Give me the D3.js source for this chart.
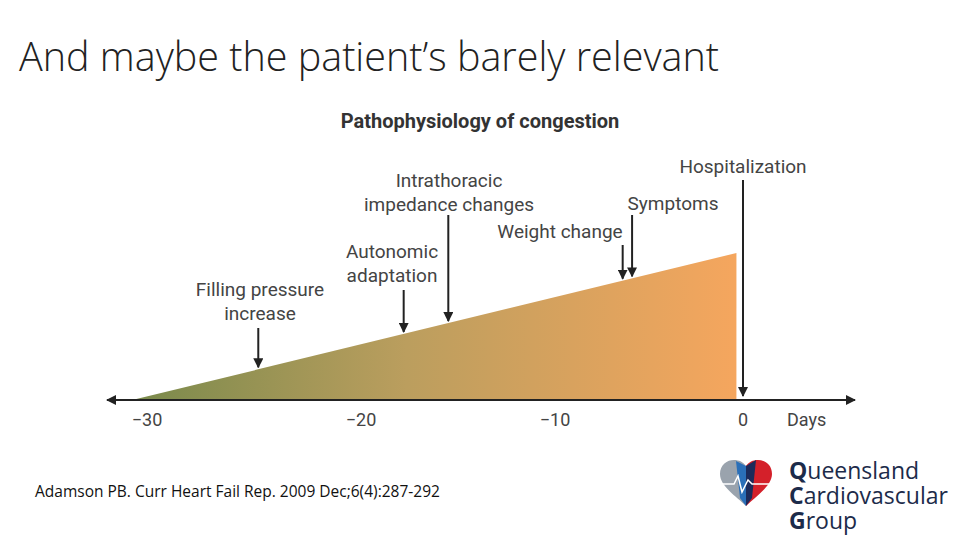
<!DOCTYPE html>
<html>
<head>
<meta charset="utf-8">
<script src="https://cdn.jsdelivr.net/npm/d3@7"></script>
<style>
  body { margin: 0; background: #fff; }
  svg text { font-family: "Open Sans", sans-serif; }
</style>
</head>
<body>
<svg id="chart" width="960" height="540"></svg>
<script>
// Data
const TICKS = [-30, -20, -10, 0];
const TICK_LABELS = ["\u221230", "\u221220", "\u221210", "0"];
const RAMP_DAYS = [-30.5, -0.35];      // congestion ramp start/end
const RAMP_LEVEL = [0, 1];             // relative height
const EVENTS = ["Filling pressure|increase", "Autonomic|adaptation", "Intrathoracic|impedance changes", "Weight change", "Symptoms", "Hospitalization"];
const EVENT_DAYS = [-24.8, -17.8, -15.5, -6.4, -5.9, 0];
const EVENT_TOPS = [328, 290, 215, 245, 215, 180];   // arrow start (y px)

const svg = d3.select("#chart");

// Slide title
svg.append("text").attr("x", 19).attr("y", 71)
  .style("font-size", "39.5px").style("font-weight", 300).attr("fill", "#222")
  .text("And maybe the patient\u2019s barely relevant");

// Scales (the source figure's axis is slightly uneven)
const x = d3.scaleLinear().domain(TICKS).range([147, 361, 555, 743]);
const y = d3.scaleLinear().domain([0, 1]).range([399, 253]);
const rampAt = d => y((x(d) - x(RAMP_DAYS[0])) / (x(RAMP_DAYS[1]) - x(RAMP_DAYS[0])));

const FONT_N = "'Liberation Sans Narrow', 'Roboto', sans-serif";

// Chart title
svg.append("text").attr("x", 480).attr("y", 128).attr("text-anchor", "middle")
  .style("font-size", "20px").style("font-weight", "bold").attr("fill", "#333")
  .style("font-family", FONT_N)
  .text("Pathophysiology of congestion");

// Gradient
const defs = svg.append("defs");
const grad = defs.append("linearGradient").attr("id", "ramp");
grad.append("stop").attr("offset", "0%").attr("stop-color", "#7a8a4c");
grad.append("stop").attr("offset", "45%").attr("stop-color", "#bb9e5e");
grad.append("stop").attr("offset", "100%").attr("stop-color", "#f5a65e");

const marker = defs.append("marker").attr("id", "ah").attr("viewBox", "0 0 10 10")
  .attr("refX", 9).attr("refY", 5).attr("markerWidth", 5).attr("markerHeight", 5)
  .attr("orient", "auto-start-reverse");
marker.append("path").attr("d", "M0,0 L10,5 L0,10 Z").attr("fill", "#222");

// Ramp
const rampPts = [
  [x(RAMP_DAYS[0]), y(RAMP_LEVEL[0])],
  [x(RAMP_DAYS[1]), y(RAMP_LEVEL[1])],
  [x(RAMP_DAYS[1]), y(0)]
];
svg.append("path").attr("d", d3.line()(rampPts) + "Z").attr("fill", "url(#ramp)");

// Axis
svg.append("line").attr("x1", 107).attr("x2", 855).attr("y1", 400).attr("y2", 400)
  .attr("stroke", "#222").attr("stroke-width", 2)
  .attr("marker-start", "url(#ah)").attr("marker-end", "url(#ah)");

svg.selectAll("text.tick").data(TICKS).enter().append("text")
  .attr("x", d => x(d)).attr("y", 426).attr("text-anchor", "middle")
  .style("font-size", "18px").attr("fill", "#444").style("font-family", FONT_N)
  .text((d, i) => TICK_LABELS[i]);
svg.append("text").attr("x", 787).attr("y", 426)
  .style("font-size", "18px").attr("fill", "#444").style("font-family", FONT_N).text("Days");

// Event arrows
const labelPos = [
  { x: 260, y: 296 }, { x: 392, y: 258 }, { x: 449, y: 187 },
  { x: 560, y: 238 }, { x: 673, y: 210 }, { x: 743, y: 173 }
];
EVENTS.forEach((name, i) => {
  const ex = x(EVENT_DAYS[i]);
  const bottom = i === 5 ? 396 : rampAt(EVENT_DAYS[i]) - 2;
  svg.append("line").attr("x1", ex).attr("x2", ex).attr("y1", EVENT_TOPS[i]).attr("y2", bottom)
    .attr("stroke", "#222").attr("stroke-width", 2).attr("marker-end", "url(#ah)");
  const t = svg.append("text").attr("x", labelPos[i].x).attr("y", labelPos[i].y)
    .attr("text-anchor", "middle").style("font-size", "19px").attr("fill", "#444")
    .style("font-family", FONT_N);
  name.split("|").forEach((line, j) => {
    t.append("tspan").attr("x", labelPos[i].x).attr("dy", j ? 24 : 0).text(line);
  });
});

// Citation
svg.append("text").attr("x", 35).attr("y", 497).style("font-size", "15.5px").attr("fill", "#111")
  .text("Adamson PB. Curr Heart Fail Rep. 2009 Dec;6(4):287-292");

// Logo
const logo = svg.append("g").attr("transform", "translate(746,480)");
const heartL = "M0,-14 C-6,-24 -26,-22 -26,-6 C-26,6 -10,16 0,26 Z";
const heartR = "M0,-14 C6,-24 26,-22 26,-6 C26,6 10,16 0,26 Z";
logo.append("path").attr("d", heartL).attr("fill", "#9aa3ad");
logo.append("path").attr("d", heartR).attr("fill", "#d4202a");
logo.append("path").attr("d", "M-10,-19 L0,-14 L0,26 L-6,18 Z").attr("fill", "#2a6fb8");
logo.append("path").attr("d", "M0,-14 L10,-20 L6,18 L0,26 Z").attr("fill", "#1c2b5a");
logo.append("path").attr("d", "M-26,4 L-12,4 L-8,-4 L-4,12 L2,0 L6,4 L26,4")
  .attr("fill", "none").attr("stroke", "#fff").attr("stroke-width", 1.5);
["Queensland", "Cardiovascular", "Group"].forEach((w, i) => {
  svg.append("text").attr("x", 789).attr("y", 479 + i * 25)
    .style("font-size", "23px").attr("fill", "#1c2b4a")
    .html(`<tspan font-weight="bold">${w[0]}</tspan>${w.slice(1)}`);
});
</script>
</body>
</html>
